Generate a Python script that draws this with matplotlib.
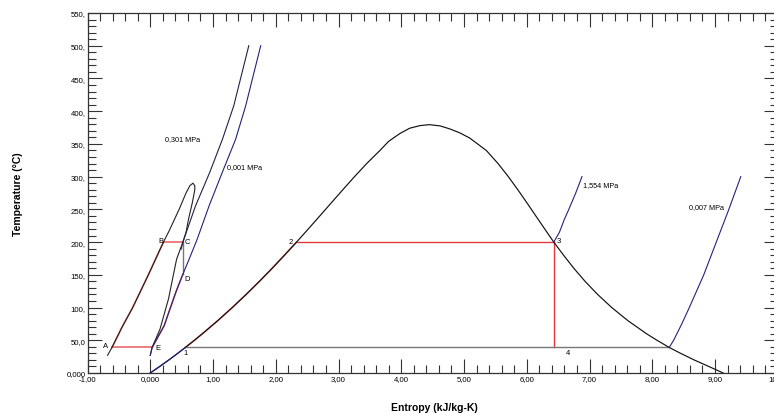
import matplotlib
matplotlib.use("Agg")
import matplotlib.pyplot as plt
from matplotlib.ticker import FixedLocator, MultipleLocator

plt.rcParams['font.family'] = ['Liberation Sans', 'DejaVu Sans']

# ---- data (entropy kJ/kg-K, temperature degC) ----
# water saturation dome
dome_s = [0.000, 0.151, 0.297, 0.437, 0.559, 0.704, 0.831, 1.076, 1.307, 1.528, 1.739,
          1.943, 2.139, 2.331, 2.518, 2.702, 2.885, 3.069, 3.255, 3.449, 3.660, 3.800,
          3.980, 4.135, 4.300, 4.450, 4.620, 4.770, 4.930, 5.090, 5.355, 5.542, 5.706,
          5.857, 6.002, 6.144, 6.286, 6.430, 6.586, 6.750, 6.929, 7.129, 7.354, 7.611,
          7.908, 8.075, 8.270, 8.452, 8.666, 8.900, 9.130]
dome_T = [0, 10, 20, 30, 39, 50, 60, 80, 100, 120, 140,
          160, 180, 200, 220, 240, 260, 280, 300, 320, 340, 354,
          366, 374, 378, 379.4, 377.5, 373, 367, 359, 340, 320, 300,
          280, 260, 240, 220, 200, 180, 160, 140, 120, 100, 80,
          60, 50, 39, 30, 20, 10, 0]

# second working fluid dome (narrow loop on the left)
loop_s = [-0.68, -0.61, -0.45, -0.28, -0.03, 0.21, 0.30, 0.46, 0.57, 0.63, 0.68,
          0.71, 0.71, 0.67, 0.61, 0.57, 0.52, 0.42, 0.29, 0.155, 0.03, 0.00]
loop_T = [27, 39, 70, 100, 150, 200, 217, 250, 275, 286, 290,
          286, 280, 260, 235, 215, 200, 174, 113, 67, 39, 27]

# isobars
p_low_s = [0.00, 0.03, 0.22, 0.41, 0.52, 0.62, 0.75, 0.94, 1.15, 1.36, 1.52, 1.76]
p_low_T = [27, 39, 72, 124, 151, 174, 205, 256, 307, 357, 408, 500]
p_high_s = [0.49, 0.52, 0.72, 0.95, 1.15, 1.33, 1.57]
p_high_T = [189, 200, 255, 307, 357, 408, 500]
p_1554_s = [6.43, 6.52, 6.60, 6.67, 6.78, 6.88]
p_1554_T = [200, 215, 235, 250, 275, 300]
p_0007_s = [8.27, 8.34, 8.47, 8.59, 8.82, 9.02, 9.22, 9.41]
p_0007_T = [39, 50, 75, 100, 150, 200, 250, 300]

# cycle state points
T_low, T_high = 39, 200
s_A, s_B, s_C, s_D, s_E = -0.61, 0.21, 0.52, 0.52, 0.03
T_D = 151
s_1, s_2, s_3, s_4end = 0.559, 2.331, 6.43, 8.27

x_ticks = [-1, 0, 1, 2, 3, 4, 5, 6, 7, 8, 9, 10]
x_labels = ["-1,00", "0,000", "1,00", "2,00", "3,00", "4,00", "5,00", "6,00",
            "7,00", "8,00", "9,00", "10,00"]
y_ticks = [0, 50, 100, 150, 200, 250, 300, 350, 400, 450, 500, 550]
y_labels = ["0,000", "50,0", "100,", "150,", "200,", "250,", "300,", "350,",
            "400,", "450,", "500,", "550,"]

# ---- figure ----
fig = plt.figure(figsize=(7.74, 4.14), dpi=100)
ax = fig.add_axes([87.5 / 774, 40 / 414, 690.3 / 774, 360 / 414])

RED = "#e03a3a"
NAVY = "#23237a"
GRAY = "#777777"

# red process underlays along curves
def seg(xs, ys, lo, hi):
    pts = [(x, y) for x, y in zip(xs, ys) if lo <= y <= hi]
    return [p[0] for p in pts], [p[1] for p in pts]

# water cycle
sx, sy = seg(dome_s[:14], dome_T[:14], T_low, T_high)
ax.plot(sx, sy, color=RED, lw=1.15, alpha=0.8, zorder=2)
ax.plot([s_2, s_3], [T_high, T_high], color=RED, lw=1.0, zorder=2)
ax.plot([s_3, s_3], [T_high, T_low], color=RED, lw=1.0, zorder=2)
ax.plot([s_1, s_4end], [T_low, T_low], color=GRAY, lw=1.0, zorder=2)

# second cycle
sx, sy = seg(loop_s[:6], loop_T[:6], T_low, T_high)
ax.plot(sx, sy, color=RED, lw=1.15, alpha=0.8, zorder=2)
ax.plot([s_B, s_C], [T_high, T_high], color=RED, lw=1.2, alpha=0.75, zorder=2)
ax.plot([s_A, s_E], [T_low, T_low], color=RED, lw=1.2, alpha=0.75, zorder=2)
ax.plot([s_C, s_D], [T_high, T_D], color=GRAY, lw=1.0, zorder=2)
sx, sy = seg(p_low_s, p_low_T, T_low, T_D)
ax.plot(sx, sy, color=RED, lw=1.15, alpha=0.8, zorder=2)

# curves
ax.plot(dome_s, dome_T, color="#111111", lw=0.85, zorder=3)
ax.plot(dome_s[:5], dome_T[:5], color=NAVY, lw=0.85, zorder=4)
ax.plot(loop_s, loop_T, color="#222222", lw=0.8, zorder=3)
ax.plot(p_low_s, p_low_T, color=NAVY, lw=0.8, zorder=3)
ax.plot(p_high_s, p_high_T, color="#222244", lw=0.8, zorder=3)
ax.plot(p_1554_s, p_1554_T, color=NAVY, lw=0.8, zorder=3)
ax.plot(p_0007_s, p_0007_T, color=NAVY, lw=0.8, zorder=3)

# texts
fs_small = 5.2
ax.text(0.234, 357.5, "0,301 MPa", fontsize=fs_small, ha="left", va="center")
ax.text(1.221, 314.7, "0,001 MPa", fontsize=fs_small, ha="left", va="center")
ax.text(6.895, 287.7, "1,554 MPa", fontsize=fs_small, ha="left", va="center")
ax.text(8.59, 254, "0,007 MPa", fontsize=fs_small, ha="left", va="center")
pt_labels = [("A", -0.705, 41.7), ("B", 0.17, 202), ("C", 0.595, 200.6),
             ("D", 0.595, 145), ("E", 0.127, 38.7), ("1", 0.564, 32),
             ("2", 2.24, 200.6), ("3", 6.51, 203), ("4", 6.65, 30.6)]
for lab, x, y in pt_labels:
    ax.text(x, y, lab, fontsize=5.5, ha="center", va="center")

# axes styling
ax.set_xlim(-1, 10)
ax.set_ylim(0, 550)
ax.xaxis.set_major_locator(FixedLocator(x_ticks))
ax.set_xticklabels(x_labels)
ax.yaxis.set_major_locator(FixedLocator(y_ticks))
ax.set_yticklabels(y_labels)
ax.xaxis.set_minor_locator(MultipleLocator(0.2))
ax.yaxis.set_minor_locator(MultipleLocator(10))
ax.tick_params(which="both", direction="in", top=True, right=True,
               colors="#333333", labelcolor="black", labelsize=5.6, pad=1.5)
ax.tick_params(which="major", length=10, width=0.8)
ax.tick_params(which="minor", length=5.5, width=0.8)
for sp in ax.spines.values():
    sp.set_color("#333333")
    sp.set_linewidth(0.9)

fig.text(18 / 774, 1 - 194 / 414, "Temperature (°C)", rotation=90, fontsize=7.5,
         fontweight="bold", ha="center", va="center")
fig.text(434 / 774, 1 - 408 / 414, "Entropy (kJ/kg-K)", fontsize=7.5,
         fontweight="bold", ha="center", va="center")

fig.savefig("out.png", dpi=100)
